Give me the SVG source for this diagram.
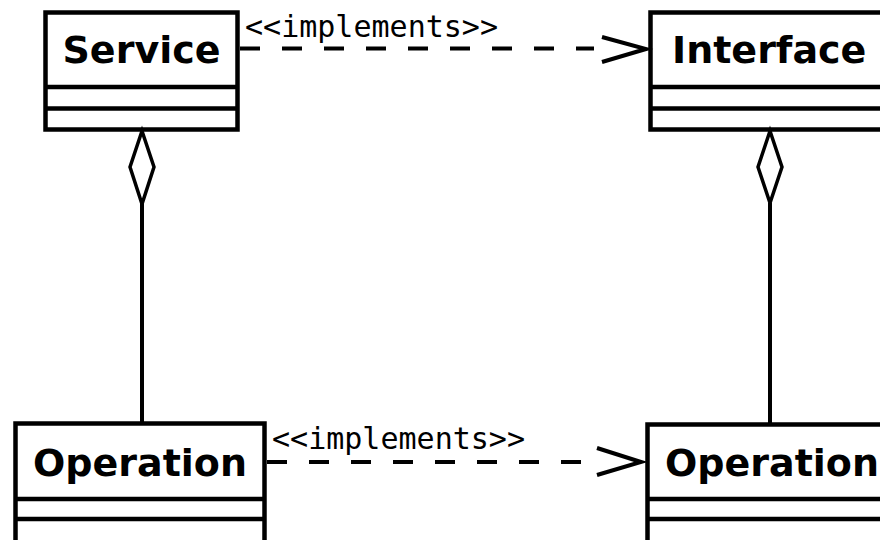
<svg xmlns="http://www.w3.org/2000/svg" width="880" height="540" viewBox="0 0 880 540">
  <style>
    .box { fill: #ffffff; stroke: #000000; stroke-width: 4.5; }
    .div { stroke: #000000; stroke-width: 4.5; }
    .name { font-family: "DejaVu Sans", "Liberation Sans", sans-serif; font-weight: bold; font-size: 38px; fill: #000000; }
    .stereo { font-family: "DejaVu Sans Mono", "Liberation Mono", monospace; font-size: 30px; fill: #000000; }
    .dash { fill: none; stroke: #000000; stroke-width: 4; stroke-dasharray: 20 22; }
    .solid { fill: none; stroke: #000000; stroke-width: 4; }
    .head { fill: none; stroke: #000000; stroke-width: 4; stroke-linejoin: miter; }
    .diamond { fill: #ffffff; stroke: #000000; stroke-width: 3.5; }
  </style>
  <rect x="0" y="0" width="880" height="540" fill="#ffffff"/>

  <!-- Service class -->
  <g id="service">
    <rect class="box" x="45.5" y="12.5" width="192" height="117"/>
    <line class="div" x1="45.5" y1="87" x2="237.5" y2="87"/>
    <line class="div" x1="45.5" y1="108.5" x2="237.5" y2="108.5"/>
    <text class="name" x="141.5" y="63" text-anchor="middle">Service</text>
  </g>

  <!-- Interface class -->
  <g id="interface">
    <rect class="box" x="650.5" y="12.5" width="300" height="117"/>
    <line class="div" x1="650.5" y1="87" x2="880" y2="87"/>
    <line class="div" x1="650.5" y1="108.5" x2="880" y2="108.5"/>
    <text class="name" x="672" y="63">Interface</text>
  </g>

  <!-- Operation class (service side) -->
  <g id="operation-left">
    <rect class="box" x="15.5" y="423.5" width="249" height="200"/>
    <line class="div" x1="15.5" y1="499" x2="264.5" y2="499"/>
    <line class="div" x1="15.5" y1="519" x2="264.5" y2="519"/>
    <text class="name" x="140" y="476" text-anchor="middle">Operation</text>
  </g>

  <!-- Operation class (interface side) -->
  <g id="operation-right">
    <rect class="box" x="647.5" y="424.5" width="300" height="200"/>
    <line class="div" x1="647.5" y1="499" x2="880" y2="499"/>
    <line class="div" x1="647.5" y1="519" x2="880" y2="519"/>
    <text class="name" x="665" y="476">Operation</text>
  </g>

  <!-- Connectors -->
  <g id="connectors">
    <!-- realization: Service to Interface -->
    <line class="dash" x1="240" y1="48.5" x2="594" y2="48.5"/>
    <polyline class="head" points="602,37 646,49 602,62"/>
    <text class="stereo" x="245" y="37" textLength="253" lengthAdjust="spacingAndGlyphs">&lt;&lt;implements&gt;&gt;</text>

    <!-- realization: Operation to Operation -->
    <line class="dash" x1="267" y1="462" x2="586" y2="462"/>
    <polyline class="head" points="597,448 641,462 597,475"/>
    <text class="stereo" x="272" y="449" textLength="253" lengthAdjust="spacingAndGlyphs">&lt;&lt;implements&gt;&gt;</text>

    <!-- aggregation: Service owns Operation -->
    <line class="solid" x1="142" y1="204" x2="142" y2="422"/>
    <polygon class="diamond" points="142,131 154,167 142,204 130,167"/>

    <!-- aggregation: Interface owns Operation -->
    <line class="solid" x1="770" y1="203" x2="770" y2="423"/>
    <polygon class="diamond" points="770,131 782,167 770,203 758,167"/>
  </g>
</svg>
